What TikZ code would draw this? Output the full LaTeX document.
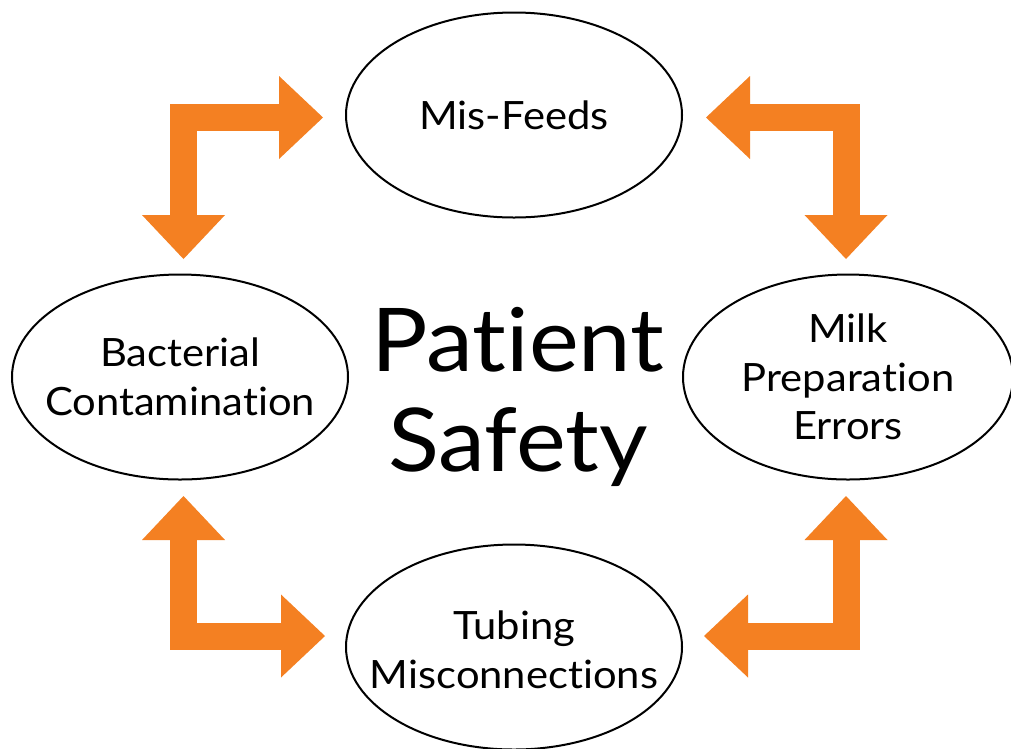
\documentclass[tikz,border=0pt]{standalone}
\usepackage{fontspec}
\setmainfont{Lato}[Ligatures={NoCommon}, FakeStretch=1.07]
\usetikzlibrary{shapes.geometric,arrows.meta,calc}
\definecolor{arroworange}{RGB}{244,128,34}
\tikzset{
  topic/.style={ellipse, draw=black, line width=2pt, fill=white, inner sep=0pt,
    minimum width=336pt, minimum height=205pt},
  topictext/.style={align=center, inner sep=0pt, font=\fontsize{39}{48.5}\selectfont},
  centertext/.style={align=center, inner sep=0pt, font=\fontsize{88}{100}\selectfont},
  blockarrow/.style={draw=arroworange, line width=27pt, line join=miter, line cap=butt,
    {Triangle[width=83pt,length=44pt,line width=0pt,fill=arroworange]}-{Triangle[width=83pt,length=44pt,line width=0pt,fill=arroworange]}}
}
\begin{document}
\begin{tikzpicture}[x=1pt,y=-1pt]
\useasboundingbox[fill=white] (0,0) rectangle (1011,748);
% topic ellipses
\node[topic] (mis) at (514,115) {};
\node[topic] (bact) at (180,377) {};
\node[topic, minimum width=330pt] (milk) at (848,377) {};
\node[topic] (tube) at (514,647) {};
% texts
\node[topictext] (mistext) at (mis) {Mis-Feeds};
\node[topictext] (bacttext) at (bact) {Bacterial\\Contamination};
\node[topictext] (milktext) at (milk) {Milk\\Preparation\\Errors};
\node[topictext] (tubetext) at ($(tube)+(0,3)$) {Tubing\\Misconnections};
\node[centertext] (center) at (518,397) {Patient\\Safety};
% arrow end points
\coordinate (tlA) at (323,117.5);
\coordinate (tlB) at (183.5,259);
\coordinate (trA) at (706,117.5);
\coordinate (trB) at (846,259);
\coordinate (blA) at (183.5,496);
\coordinate (blB) at (325,636);
\coordinate (brA) at (846,496);
\coordinate (brB) at (704,636);
% connectors
\draw[blockarrow] (tlA) -| (tlB);
\draw[blockarrow] (trA) -| (trB);
\draw[blockarrow] (blA) |- (blB);
\draw[blockarrow] (brA) |- (brB);
\end{tikzpicture}
\end{document}
